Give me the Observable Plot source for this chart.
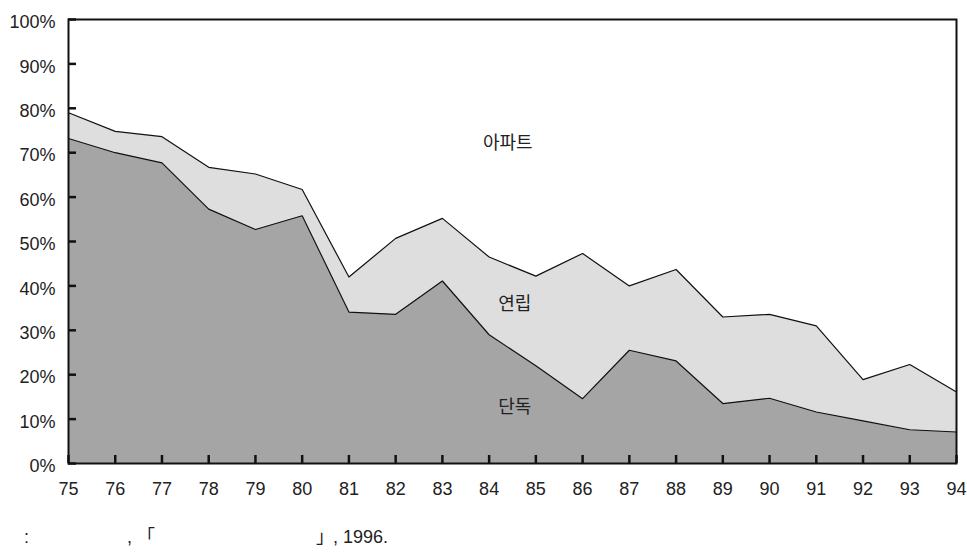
<!DOCTYPE html>
<html>
<head>
<meta charset="utf-8">
<script src="https://cdn.jsdelivr.net/npm/d3@7"></script>
<script src="https://cdn.jsdelivr.net/npm/@observablehq/plot@0.6"></script>
<style>
  html, body { margin: 0; padding: 0; background: #fff; }
  #wrap { position: relative; width: 967px; height: 552px; font-family: "Liberation Sans", Arial, "Noto Sans CJK KR", sans-serif; }
  #caption { position: absolute; left: 0; top: 527px; width: 967px; height: 25px; font-size: 18px; color: #222; line-height: 20px; }
  #caption span { position: absolute; top: 0; white-space: pre; }
</style>
</head>
<body>
<div id="wrap">
  <div id="chart"></div>
  <div id="caption"><span style="left:24px">:</span><span style="left:127px">,</span><span style="left:137px">「</span><span style="left:316px">」</span><span style="left:333px">, 1996.</span></div>
</div>
<script>
const years = [75,76,77,78,79,80,81,82,83,84,85,86,87,88,89,90,91,92,93,94];
// shares (%)
const detached  = [73.2,70.0,67.7,57.3,52.7,55.8,34.1,33.6,41.1,29.0,22.0,14.6,25.5,23.1,13.5,14.7,11.6,9.6,7.6,7.1];   // 단독
const rowhouse  = [5.8,4.8,5.9,9.4,12.5,5.9,7.9,17.1,14.1,17.5,20.2,32.7,14.5,20.6,19.5,18.9,19.4,9.3,14.7,9.0];        // 연립
const apartment = [21.0,25.2,26.4,33.3,34.8,38.3,58.0,49.3,44.8,53.5,57.8,52.7,60.0,56.3,67.0,66.4,69.0,81.1,77.7,83.9]; // 아파트
const types = ["단독", "연립", "아파트"];
const yTicks = [0,10,20,30,40,50,60,70,80,90,100];
const labelNames = ["아파트", "연립", "단독"];
const labelX = [84.4, 84.55, 84.55];
const labelY = [72.2, 35.9, 12.6];

const series = {"단독": detached, "연립": rowhouse, "아파트": apartment};
const table = [];
for (const t of types) years.forEach((yr, i) => table.push({year: yr, type: t, value: series[t][i]}));
const labels = labelNames.map((n, i) => ({name: n, x: labelX[i], y: labelY[i]}));

const chart = Plot.plot({
  width: 967,
  height: 510,
  marginLeft: 68,
  marginRight: 11,
  marginTop: 19,
  marginBottom: 47,
  style: {fontFamily: "'Liberation Sans', Arial, sans-serif", fontSize: "18px", color: "#222", background: "#fff"},
  x: {domain: [75, 94], ticks: years},
  y: {domain: [0, 100], ticks: yTicks},
  color: {domain: types, range: ["#a5a5a5", "#dedede", "#ffffff"]},
  marks: [
    Plot.areaY(table, {x: "year", y: "value", z: "type", fill: "type", order: types}),
    Plot.lineY(table.filter(d => d.type !== "아파트"), Plot.stackY2({x: "year", y: "value", z: "type", order: types, stroke: "#111", strokeWidth: 1.2})),
    Plot.text(labels, {x: "x", y: "y", text: "name", fontFamily: "'Noto Sans CJK KR', sans-serif", fontSize: 18, fill: "#222"}),
    Plot.axisY({ticks: yTicks, tickSize: -8, text: null, strokeWidth: 2.5, stroke: "#111"}),
    Plot.axisY({ticks: yTicks, tickSize: 0, tickPadding: 13, dy: 3, fontSize: 18, tickFormat: d => d + "%", fill: "#222"}),
    Plot.axisX({ticks: years, tickSize: -8, text: null, strokeWidth: 2.5, stroke: "#111"}),
    Plot.axisX({ticks: years, tickSize: 0, tickPadding: 19, fontSize: 18, tickFormat: d => String(d), fill: "#222"}),
    Plot.frame({stroke: "#111", strokeWidth: 2})
  ]
});
document.getElementById("chart").appendChild(chart);
</script>
</body>
</html>
